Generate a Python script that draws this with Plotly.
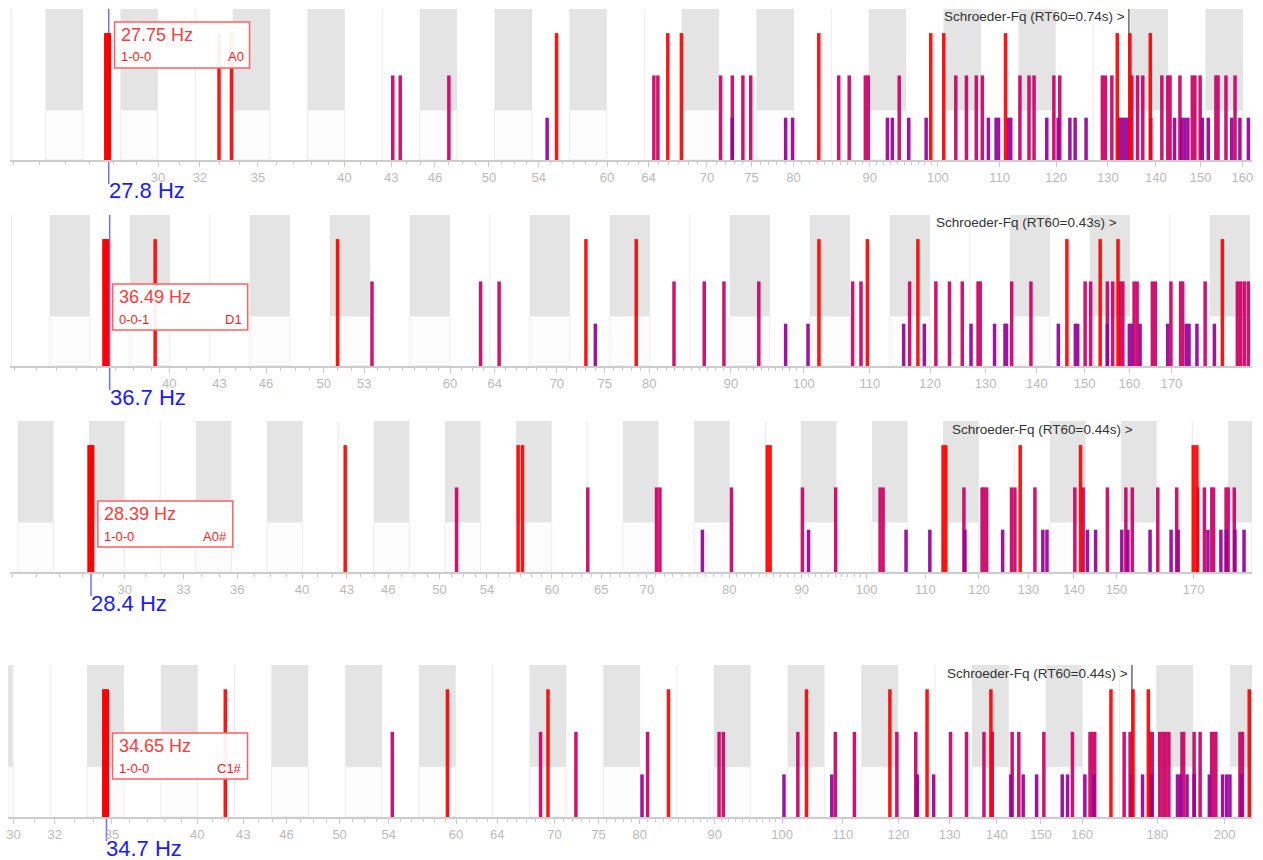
import math
import plotly.graph_objects as go

W, H = 1263, 860

# ---------------- mode frequencies (Hz) ----------------
P1_AXIAL = [27.75, 32.96, 33.6, 55.5, 65.9, 67.3, 83.2, 98.9, 100.9, 111.0, 131.9, 134.5, 138.8]
P1_TANGENTIAL = [43.1, 43.6, 47.0, 64.5, 64.9, 71.5, 72.8, 74.0, 74.9, 85.8, 87.2, 89.4, 89.8,
                 94.2, 102.8, 104.5, 106.1, 107.1, 113.5, 115.1, 116.0, 119.6, 120.7, 128.9,
                 129.5, 130.8, 134.9, 136.1, 137.2, 141.3, 142.6, 143.1, 145.3, 148.1, 148.7,
                 149.9, 153.6, 154.1, 156.0, 158.2]
P1_OBLIQUE = [54.7, 72.8, 79.05, 79.9, 92.5, 93.2, 95.6, 98.2, 108.1, 109.4, 109.8, 111.5,
              111.9, 118.3, 120.4, 122.6, 123.6, 125.7, 132.2, 132.6, 133.0, 133.5, 134.0,
              138.9, 144.1, 145.7, 146.4, 147.1, 150.4, 151.8, 157.4, 159.4, 161.5]

P2_AXIAL = [36.49, 39.19, 51.0, 73.0, 78.5, 102.2, 109.6, 117.9, 146.2, 153.4, 157.4, 183.0]
P2_TANGENTIAL = [53.6, 62.7, 64.4, 82.9, 86.6, 89.1, 93.7, 107.3, 108.6, 116.5, 121.0, 123.4,
                 125.7, 128.6, 129.0, 135.0, 138.8, 150.1, 151.3, 155.0, 156.2, 158.0, 158.5,
                 161.1, 161.8, 165.4, 166.1, 169.9, 172.3, 172.8, 178.5, 187.0, 187.9, 188.9,
                 190.0]
P2_OBLIQUE = [74.0, 97.4, 100.6, 115.5, 119.0, 127.3, 131.7, 133.7, 134.0, 144.4, 148.0, 148.5,
              155.0, 160.0, 160.5, 162.5, 169.1, 173.7, 174.4, 176.4, 180.9]

P3_AXIAL = [28.39, 42.9, 56.8, 57.2, 85.1, 85.5, 113.2, 113.7, 128.3, 141.5, 169.9, 170.9]
P3_TANGENTIAL = [51.4, 63.6, 71.1, 71.5, 80.3, 90.1, 95.1, 102.2, 102.7, 117.1, 120.6, 121.0,
                 121.5, 126.5, 127.2, 131.4, 140.2, 142.1, 147.8, 152.3, 153.9, 160.4, 165.4,
                 171.1, 173.0, 175.1, 175.6, 179.2, 179.8, 181.6]
P3_OBLIQUE = [76.6, 91.0, 106.6, 110.8, 117.3, 124.7, 133.1, 134.0, 143.1, 145.0, 151.3, 152.8,
              158.4, 163.9, 165.8, 174.0, 177.7, 179.3, 181.8, 184.5]

P4_AXIAL = [34.65, 41.8, 59.2, 69.3, 83.7, 103.9, 118.4, 125.5, 138.7, 167.4, 173.3, 177.5, 207.9]
P4_TANGENTIAL = [54.3, 68.5, 72.4, 81.0, 90.6, 91.2, 102.5, 108.7, 112.0, 119.7, 123.3, 130.2,
                 133.5, 137.2, 139.0, 143.4, 144.9, 150.7, 157.6, 162.0, 162.6, 163.2, 170.9,
                 172.5, 178.1, 178.6, 180.7, 181.6, 182.4, 183.3, 187.1, 187.6, 190.7, 192.5,
                 196.0, 196.7, 197.3, 204.9, 205.7]
P4_OBLIQUE = [80.3, 100.3, 108.1, 123.6, 126.8, 143.1, 145.9, 149.0, 155.1, 156.4, 160.7, 163.0,
              173.0, 175.9, 178.4, 185.8, 186.6, 188.6, 190.7, 195.3, 199.4, 200.7, 201.7, 205.4]

SEL_FREQ = [27.75, 36.49, 28.39, 34.65]
SEL_MODE = ["1-0-0", "0-0-1", "1-0-0", "1-0-0"]
SEL_NOTE = ["A0", "D1", "A0#", "C1#"]
MARK_FREQ = [27.8, 36.7, 28.4, 34.7]
SCHROEDER_FREQ = [134.3, 158.1, 155.1, 173.0]
RT60 = [0.74, 0.43, 0.44, 0.44]

TICKS_1 = [30, 32, 35, 40, 43, 46, 50, 54, 60, 64, 70, 75, 80, 90, 100, 110, 120, 130, 140, 150, 160]
TICKS_2 = [40, 43, 46, 50, 53, 60, 64, 70, 75, 80, 90, 100, 110, 120, 130, 140, 150, 160, 170]
TICKS_3 = [30, 33, 36, 40, 43, 46, 50, 54, 60, 65, 70, 80, 90, 100, 110, 120, 130, 140, 150, 170]
TICKS_4 = [30, 32, 35, 40, 43, 46, 50, 54, 60, 64, 70, 75, 80, 90, 100, 110, 120, 130, 140, 150,
           160, 180, 200]

AXIAL = [P1_AXIAL, P2_AXIAL, P3_AXIAL, P4_AXIAL]
TANGENTIAL = [P1_TANGENTIAL, P2_TANGENTIAL, P3_TANGENTIAL, P4_TANGENTIAL]
OBLIQUE = [P1_OBLIQUE, P2_OBLIQUE, P3_OBLIQUE, P4_OBLIQUE]
TICKS = [TICKS_1, TICKS_2, TICKS_3, TICKS_4]

# ---------------- layout geometry ----------------
FREQ_RANGE = [(23.87, 162.4), (31.78, 191.0), (24.9, 186.9), (29.74, 208.8)]
PANEL_LEFT = [10, 10, 10, 8]
PANEL_RIGHT = 1252
PANEL_TOP = [9, 215, 421, 665]
PANEL_AXIS = [160, 366, 572, 817]
BOX_TOP = [22, 284, 501, 733]
EDGE_LINE = [True, True, False, False]

Y_MAX = 3.57
KEY_SPLIT = 1.18
LEVEL = {"axial": 3, "tangential": 2, "oblique": 1}
COLORS = {"axial": "#ff0000", "tangential": "#cc0066", "oblique": "#990099"}
FONT = "Liberation Sans, Arial, sans-serif"


def py(px):
    return 1 - px / H


def stems(freqs, h):
    xs, ys = [], []
    for f in freqs:
        xs += [f, f, None]
        ys += [0, h, None]
    return xs, ys


fig = go.Figure()
shapes, annotations = [], []
layout_axes = {}

for i in range(4):
    n = i + 1
    xa = "x" if n == 1 else f"x{n}"
    ya = "y" if n == 1 else f"y{n}"
    fmin, fmax = FREQ_RANGE[i]
    top, axis = PANEL_TOP[i], PANEL_AXIS[i]

    # piano keyboard background (A0 = 27.5 Hz)
    for k in range(-24, 110):
        fc = 27.5 * 2 ** (k / 12)
        lo, hi = fc * 2 ** (-1 / 24), fc * 2 ** (1 / 24)
        if hi <= fmin or lo >= fmax:
            continue
        lo, hi = max(lo, fmin), min(hi, fmax)
        note = k % 12
        if note in (1, 4, 6, 9, 11):
            shapes.append(dict(type="rect", xref=xa, yref=ya, x0=lo, x1=hi, y0=0, y1=KEY_SPLIT,
                               fillcolor="#fcfcfc", line=dict(color="#ededed", width=1),
                               layer="below"))
            shapes.append(dict(type="rect", xref=xa, yref=ya, x0=lo, x1=hi, y0=KEY_SPLIT, y1=Y_MAX,
                               fillcolor="#e4e4e4", line=dict(width=0), layer="below"))
        elif note in (2, 7) and hi < fmax:
            shapes.append(dict(type="line", xref=xa, yref=ya, x0=hi, x1=hi, y0=0, y1=Y_MAX,
                               line=dict(color="#ececec", width=1), layer="below"))
    if EDGE_LINE[i]:
        shapes.append(dict(type="line", xref=xa, yref=ya, x0=fmin * 1.002, x1=fmin * 1.002,
                           y0=0, y1=Y_MAX, line=dict(color="#e8e8e8", width=1), layer="below"))

    # marker line (blue) and Schroeder line
    shapes.append(dict(type="line", xref=xa, yref="paper", x0=MARK_FREQ[i], x1=MARK_FREQ[i],
                       y0=py(axis + 24), y1=py(top), line=dict(color="#7070ff", width=1.5),
                       layer="below"))
    shapes.append(dict(type="line", xref=xa, yref="paper", x0=SCHROEDER_FREQ[i],
                       x1=SCHROEDER_FREQ[i], y0=py(axis), y1=py(top),
                       line=dict(color="#444444", width=1.2), layer="below"))

    # modes
    for kind, freqs in (("tangential", TANGENTIAL[i]), ("oblique", OBLIQUE[i]),
                        ("axial", AXIAL[i])):
        xs, ys = stems(freqs, LEVEL[kind])
        fig.add_trace(go.Scatter(x=xs, y=ys, xaxis=xa, yaxis=ya, mode="lines",
                                 line=dict(color=COLORS[kind], width=3.5), opacity=0.92,
                                 hoverinfo="skip", showlegend=False))
    xs, ys = stems([SEL_FREQ[i]], LEVEL["axial"])
    fig.add_trace(go.Scatter(x=xs, y=ys, xaxis=xa, yaxis=ya, mode="lines",
                             line=dict(color=COLORS["axial"], width=7),
                             hoverinfo="skip", showlegend=False))

    # selected-mode info box (annotations on log axes take log10 positions)
    bt = BOX_TOP[i]
    sel_lx = math.log10(SEL_FREQ[i])
    shapes.append(dict(type="rect", xref=xa, xsizemode="pixel", xanchor=SEL_FREQ[i], x0=7, x1=142,
                       yref="paper", y0=py(bt + 46), y1=py(bt),
                       fillcolor="rgba(255,255,255,0.94)", line=dict(color="#ff6060", width=1.5)))
    annotations.append(dict(xref=xa, yref="paper", x=sel_lx, y=py(bt + 13), xshift=11,
                            xanchor="left", yanchor="middle", showarrow=False,
                            text=f"{SEL_FREQ[i]:.2f} Hz",
                            font=dict(size=18, color="#ff3a3a", family=FONT)))
    annotations.append(dict(xref=xa, yref="paper", x=sel_lx, y=py(bt + 35), xshift=11,
                            xanchor="left", yanchor="middle", showarrow=False,
                            text=SEL_MODE[i], font=dict(size=13, color="#ff1a1a", family=FONT)))
    annotations.append(dict(xref=xa, yref="paper", x=sel_lx, y=py(bt + 35), xshift=138,
                            xanchor="right", yanchor="middle", showarrow=False,
                            text=SEL_NOTE[i], font=dict(size=13, color="#ff1a1a", family=FONT)))

    # marker label
    annotations.append(dict(xref=xa, yref="paper", x=math.log10(MARK_FREQ[i]), y=py(axis + 31),
                            xshift=-2, xanchor="left", yanchor="middle", showarrow=False,
                            text=f"{MARK_FREQ[i]:.1f} Hz",
                            font=dict(size=22, color="#1a1aff", family=FONT)))
    # Schroeder label
    annotations.append(dict(xref=xa, yref="paper", x=math.log10(SCHROEDER_FREQ[i]), y=py(top + 8),
                            xshift=-2, xanchor="right", yanchor="middle", showarrow=False,
                            text=f"Schroeder-Fq (RT60={RT60[i]:.2f}s) >",
                            font=dict(size=13.5, color="#333333", family=FONT)))

    minor_vals = [v for v in range(math.ceil(fmin), 101) if v not in TICKS[i] and v < fmax]
    left = PANEL_LEFT[i]
    layout_axes["xaxis" if n == 1 else f"xaxis{n}"] = dict(
        type="log", range=[math.log10(fmin), math.log10(fmax)],
        domain=[left / W, PANEL_RIGHT / W], anchor=ya, automargin=False,
        tickmode="array", tickvals=TICKS[i], ticktext=[str(t) for t in TICKS[i]],
        ticks="outside", ticklen=5, tickcolor="#cccccc", tickwidth=1,
        showline=True, linecolor="#cccccc", linewidth=1.5,
        showgrid=False, zeroline=False,
        tickfont=dict(size=13, color="#bbbbbb", family=FONT),
        minor=dict(tickmode="array", tickvals=minor_vals, ticks="outside", ticklen=3,
                   tickcolor="#cccccc", showgrid=False),
        fixedrange=True,
    )
    layout_axes["yaxis" if n == 1 else f"yaxis{n}"] = dict(
        range=[0, Y_MAX], domain=[py(axis), py(top)], anchor=xa, automargin=False,
        visible=False, fixedrange=True,
    )

fig.update_layout(
    width=W, height=H,
    margin=dict(l=0, r=0, t=0, b=0, autoexpand=False),
    paper_bgcolor="white", plot_bgcolor="white",
    showlegend=False,
    shapes=shapes, annotations=annotations,
    font=dict(family=FONT),
    **layout_axes,
)

# drop the browser's default body margin so the figure sits at the page origin
fig.write_html("out.html", post_script="document.body.style.margin='0';",
               config={"displayModeBar": False})
